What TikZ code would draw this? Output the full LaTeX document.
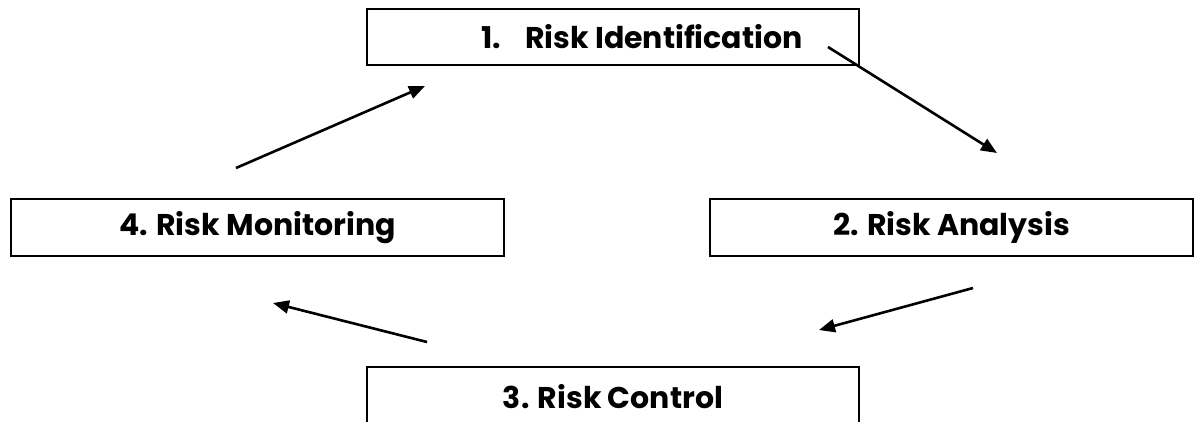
\documentclass[tikz,border=0pt]{standalone}
\usepackage{fontspec}
\setmainfont{Poppins}
\usetikzlibrary{arrows.meta}
\begin{document}
\begin{tikzpicture}[x=1pt,y=-1pt,
  box/.style={draw=black,line width=1.8pt,fill=white,inner sep=0pt,
    font=\fontsize{30}{34}\selectfont\bfseries},
  flow/.style={line width=2.6pt,-{Triangle[length=16pt,width=13pt]}}]
\useasboundingbox (0,0) rectangle (1201,421);
\clip (0,0) rectangle (1201,421);
\fill[white] (0,0) rectangle (1201,421);
\node[box,minimum width=492pt,minimum height=56pt] (b1) at (613,37)
  {\hspace*{58pt}1.\hspace{24pt}Risk Identification};
\node[box,minimum width=493pt,minimum height=57pt] (b4) at (257.5,227.5) {4. Risk Monitoring};
\node[box,minimum width=483pt,minimum height=57pt] (b2) at (951.5,227.5) {2. Risk Analysis};
\node[box,minimum width=492pt,minimum height=60pt] (b3) at (613,397) {3. Risk Control};
\coordinate (a1s) at (828,47);
\coordinate (a1e) at (997,153);
\coordinate (a2s) at (236,168);
\coordinate (a2e) at (425,86);
\coordinate (a3s) at (973,288);
\coordinate (a3e) at (819,330);
\coordinate (a4s) at (427,342);
\coordinate (a4e) at (273,303);
\draw[flow] (a1s) -- (a1e);
\draw[flow] (a2s) -- (a2e);
\draw[flow] (a3s) -- (a3e);
\draw[flow] (a4s) -- (a4e);
\end{tikzpicture}
\end{document}
